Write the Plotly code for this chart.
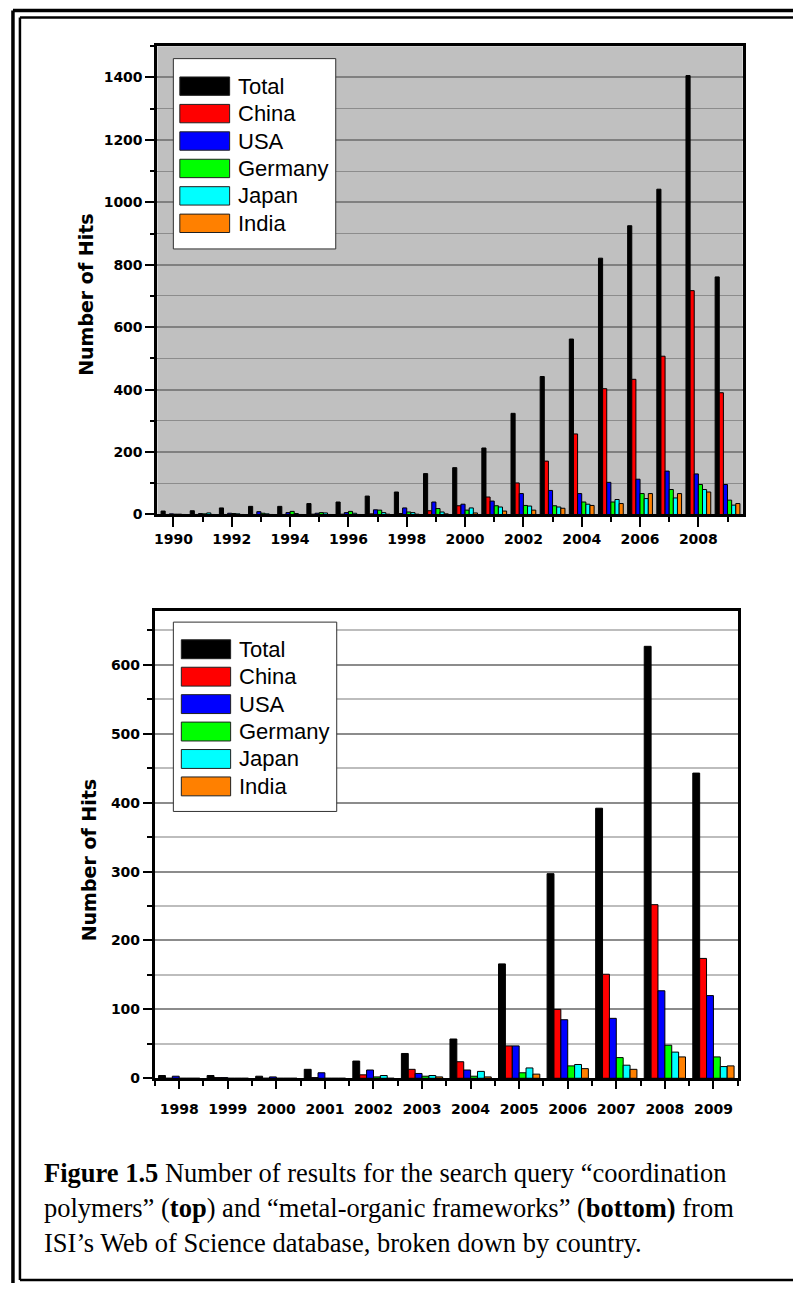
import plotly.graph_objects as go

# ---------------- data ----------------
countries = ["Total", "China", "USA", "Germany", "Japan", "India"]
colors = ["#000000", "#FF0000", "#0000FF", "#00FF00", "#00FFFF", "#FF8000"]

# Top: "coordination polymers"
years_top = list(range(1990, 2010))
top_total = [11, 12, 21, 26, 26, 35, 40, 59, 72, 131, 150, 213, 324, 442, 562, 821, 925, 1042, 1406, 761]
top_china = [0, 0, 0, 0, 0, 1, 1, 2, 3, 12, 28, 56, 101, 171, 258, 403, 433, 507, 717, 390]
top_usa = [2, 3, 4, 9, 6, 4, 6, 15, 21, 40, 33, 43, 67, 77, 67, 103, 113, 139, 130, 96]
top_germany = [1, 2, 3, 4, 10, 6, 10, 14, 8, 19, 14, 28, 29, 28, 40, 40, 67, 80, 96, 46]
top_japan = [1, 5, 2, 2, 3, 5, 4, 6, 6, 8, 21, 24, 27, 24, 33, 48, 51, 53, 80, 30]
top_india = [0, 0, 0, 0, 0, 0, 0, 1, 1, 2, 5, 11, 14, 20, 29, 35, 67, 67, 72, 35]

# Bottom: "metal-organic frameworks"
years_bot = list(range(1998, 2010))
bot_total = [4, 4, 3, 13, 25, 36, 57, 166, 297, 392, 627, 443]
bot_china = [0, 1, 0, 1, 5, 13, 24, 47, 100, 151, 252, 174]
bot_usa = [3, 1, 2, 8, 12, 7, 12, 47, 85, 87, 127, 120]
bot_germany = [0, 0, 0, 0, 2, 3, 3, 8, 18, 30, 48, 31]
bot_japan = [0, 0, 0, 0, 4, 4, 10, 15, 20, 19, 38, 17]
bot_india = [0, 0, 0, 0, 0, 2, 2, 6, 14, 13, 31, 18]

top_series = [top_total, top_china, top_usa, top_germany, top_japan, top_india]
bot_series = [bot_total, bot_china, bot_usa, bot_germany, bot_japan, bot_india]

axis_title = "Number of Hits"
caption_lines = [
    "<b>Figure 1.5</b> Number of results for the search query \u201ccoordination",
    "polymers\u201d (<b>top</b>) and \u201cmetal-organic frameworks\u201d (<b>bottom)</b> from",
    "ISI\u2019s Web of Science database, broken down by country.",
]

# ---------------- figure ----------------
W, H = 793, 1291


def fx(p):
    return p / W


def fy(p):
    return 1 - p / H


fig = go.Figure()
for name, col, vals in zip(countries, colors, top_series):
    fig.add_trace(go.Bar(x=years_top, y=vals, name=name, xaxis="x", yaxis="y",
                         marker=dict(color=col, line=dict(color="black", width=1)),
                         showlegend=False))
for name, col, vals in zip(countries, colors, bot_series):
    fig.add_trace(go.Bar(x=years_bot, y=vals, name=name, xaxis="x2", yaxis="y2",
                         marker=dict(color=col, line=dict(color="black", width=1)),
                         showlegend=False))

tickfont = dict(family="DejaVu Sans", size=14, color="black", weight="bold")
titlefont = dict(family="DejaVu Sans", size=19, color="black", weight="bold")

common_x = dict(showline=True, linecolor="black", linewidth=3, mirror=True,
                showgrid=False, zeroline=False, ticks="outside", tickcolor="black",
                tickwidth=2, tickfont=tickfont, tickmode="linear")
common_y = dict(showline=True, linecolor="black", linewidth=3, mirror=True,
                zeroline=False, ticks="outside", tickcolor="black", tickwidth=2,
                tickfont=tickfont, tickmode="linear", tick0=0)

fig.update_layout(
    width=W, height=H, margin=dict(l=0, r=0, t=0, b=0),
    paper_bgcolor="white", plot_bgcolor="white",
    barmode="group", bargap=0.15, bargroupgap=0,
    xaxis=dict(common_x, domain=[fx(155), fx(742.5)], anchor="y",
               range=[1989.45, 2009.52], tick0=1990, dtick=2, ticklen=10,
               minor=dict(dtick=1, tick0=1990, ticks="outside", ticklen=5,
                          tickwidth=2, tickcolor="black")),
    yaxis=dict(common_y, domain=[fy(517.7), fy(46.5)], anchor="x",
               range=[0, 1500], dtick=200, ticklen=9,
               showgrid=True, gridcolor="#808080", gridwidth=2,
               minor=dict(dtick=100, ticks="outside", ticklen=4, tickwidth=2,
                          tickcolor="black", showgrid=True, gridcolor="#8c8c8c",
                          gridwidth=1)),
    xaxis2=dict(common_x, domain=[fx(152.5), fx(737.5)], anchor="y2",
                range=[1997.5, 2009.5], tick0=1998, dtick=1, ticklen=8,
                ticklabelstandoff=8,
                minor=dict(dtick=1, tick0=1997.5, ticks="outside", ticklen=5,
                           tickwidth=2, tickcolor="black")),
    yaxis2=dict(common_y, domain=[fy(1085), fy(615)], anchor="x2",
                range=[0, 678], dtick=100, ticklen=9,
                showgrid=True, gridcolor="#8c8c8c", gridwidth=2,
                minor=dict(dtick=50, ticks="outside", ticklen=5, tickwidth=2,
                           tickcolor="black", showgrid=True, gridcolor="#bdbdbd",
                           gridwidth=1.5)),
)

shapes = []
annotations = []
# grey plot background for the top chart
shapes.append(dict(type="rect", xref="x domain", yref="y domain", x0=0, x1=1, y0=0, y1=1,
                   fillcolor="#C0C0C0", line=dict(width=0), layer="below"))

# y-axis titles
for (tx, ty) in [(83, 297), (86, 866)]:
    annotations.append(dict(xref="paper", yref="paper", x=fx(tx), y=fy(ty),
                            xanchor="center", yanchor="middle", showarrow=False,
                            text=axis_title, textangle=-90, font=titlefont))

# legends (drawn manually to get wide swatches)
legend_specs = [
    dict(box=(171, 59, 334, 250.5), sx=(177.5, 227.5), cy0=86.7, step=27.6, h=18.5),
    dict(box=(171, 626, 335, 816.5), sx=(179, 228.5), cy0=653.3, step=27.6, h=19),
]
for spec in legend_specs:
    x0, y0, x1, y1 = spec["box"]
    shapes.append(dict(type="rect", xref="paper", yref="paper",
                       x0=fx(x0), x1=fx(x1), y0=fy(y1), y1=fy(y0),
                       fillcolor="white", line=dict(color="#303030", width=1), layer="above"))
    for i, (name, col) in enumerate(zip(countries, colors)):
        cy = spec["cy0"] + i * spec["step"]
        shapes.append(dict(type="rect", xref="paper", yref="paper",
                           x0=fx(spec["sx"][0]), x1=fx(spec["sx"][1]),
                           y0=fy(cy + spec["h"] / 2), y1=fy(cy - spec["h"] / 2),
                           fillcolor=col, line=dict(color="#202020", width=1), layer="above"))
        annotations.append(dict(xref="paper", yref="paper", x=fx(spec["sx"][1] + 6), y=fy(cy),
                                xanchor="left", yanchor="middle", showarrow=False, text=name,
                                font=dict(family="Liberation Sans, Arial", size=22, color="black")))

# page frame (double rule)
frame = [
    (10, 10.5, 10, 1291, 3.5), (10, 10.5, 793, 10.5, 3.5),
    (17, 17.5, 17, 1288, 2.5), (17, 17.5, 793, 17.5, 2.5), (17, 1288, 793, 1288, 2.5),
]
for x0, y0, x1, y1, w in frame:
    shapes.append(dict(type="line", xref="paper", yref="paper",
                       x0=fx(x0), y0=fy(y0), x1=fx(x1), y1=fy(y1),
                       line=dict(color="black", width=w), layer="above"))

# caption
for i, line in enumerate(caption_lines):
    annotations.append(dict(xref="paper", yref="paper", x=fx(39), y=fy(1180 + i * 35.5),
                            xanchor="left", yanchor="middle", showarrow=False, text=line,
                            font=dict(family="Liberation Serif, Times New Roman", size=26.5,
                                      color="black")))

fig.update_layout(shapes=shapes, annotations=annotations)

post = ("document.documentElement.style.margin='0';document.body.style.margin='0';"
        "document.body.style.padding='0';document.body.style.overflow='hidden';"
        "var d=document.querySelector('.plotly-graph-div');"
        "if(d){d.style.position='absolute';d.style.left='0px';d.style.top='0px';}")
fig.write_html("out.html", post_script=post, config={"displayModeBar": False})
